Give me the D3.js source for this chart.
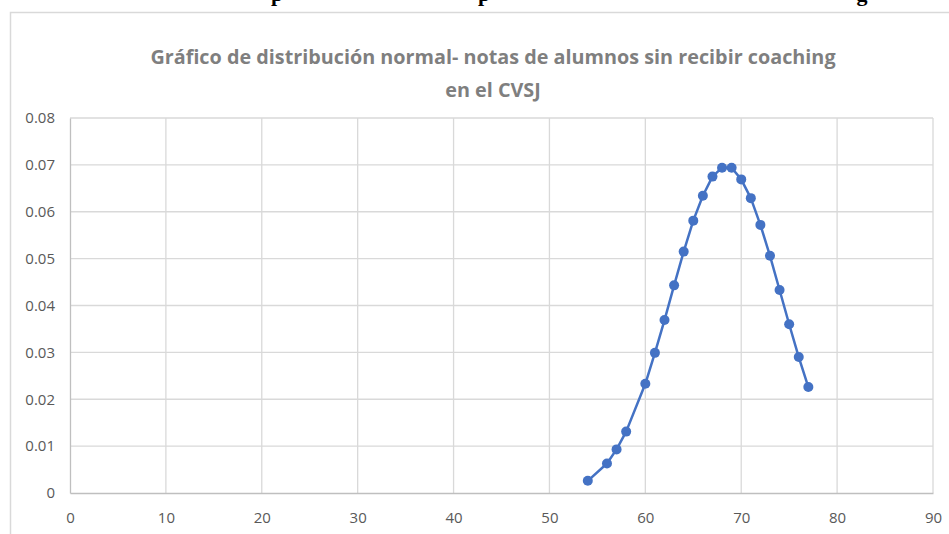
<!DOCTYPE html>
<html>
<head>
<meta charset="utf-8">
<script src="https://cdn.jsdelivr.net/npm/d3@7"></script>
<style>
  html, body { margin: 0; padding: 0; background: #fff; }
  svg { display: block; }
</style>
</head>
<body>
<div id="chart"></div>
<script>
// notas (eje x) y densidad normal (eje y)
const notas = [54, 56, 57, 58, 60, 61, 62, 63, 64, 65, 66, 67, 68, 69, 70, 71, 72, 73, 74, 75, 76, 77];
const densidad = [0.0026, 0.0063, 0.0093, 0.0131, 0.0233, 0.0299, 0.0369, 0.0443, 0.0515, 0.0581, 0.0634, 0.0675,
                  0.0694, 0.0694, 0.0669, 0.0629, 0.0572, 0.0506, 0.0433, 0.0360, 0.0290, 0.0226];
const xTicks = [0, 10, 20, 30, 40, 50, 60, 70, 80, 90];
const yTicks = [0, 0.01, 0.02, 0.03, 0.04, 0.05, 0.06, 0.07, 0.08];
const tituloLineas = ["Gráfico de distribución normal- notas de alumnos sin recibir coaching", "en el CVSJ"];

const width = 949, height = 534;
const plot = { left: 70, right: 933, top: 118, bottom: 493 };

const svg = d3.select("#chart").append("svg")
    .attr("width", width)
    .attr("height", height);

// restos del encabezado del documento, cortado arriba
[["p", 277], ["p", 484], ["g", 862]].forEach(([t, x]) => {
    svg.append("text")
        .attr("x", x).attr("y", 1)
        .attr("text-anchor", "middle")
        .style("font-family", "'Liberation Serif', serif")
        .style("font-weight", "bold")
        .style("font-size", "22px")
        .attr("fill", "#000")
        .text(t);
});

// borde del area del grafico
svg.append("rect")
    .attr("x", 10.5).attr("y", 12.5)
    .attr("width", 980).attr("height", 560)
    .attr("fill", "#fff")
    .attr("stroke", "#d9d9d9")
    .attr("stroke-width", 1.5);

const x = d3.scaleLinear().domain([0, 90]).range([plot.left, plot.right]);
const y = d3.scaleLinear().domain([0, 0.08]).range([plot.bottom, plot.top]);

// titulo
svg.append("g").selectAll("text")
    .data(tituloLineas)
    .join("text")
    .attr("x", 493)
    .attr("y", (d, i) => 64 + i * 33)
    .attr("text-anchor", "middle")
    .style("font-family", "'Open Sans', sans-serif")
    .style("font-weight", "bold")
    .style("font-size", "19.8px")
    .attr("fill", "#7f7f7f")
    .text(d => d);

// lineas de cuadricula
const grid = svg.append("g").attr("stroke", "#d9d9d9").attr("stroke-width", 1.3);
grid.selectAll("line.h")
    .data(yTicks.filter(d => d > 0))
    .join("line")
    .attr("class", "h")
    .attr("x1", plot.left).attr("x2", plot.right)
    .attr("y1", d => y(d)).attr("y2", d => y(d));
grid.selectAll("line.v")
    .data(xTicks.filter(d => d > 0))
    .join("line")
    .attr("class", "v")
    .attr("x1", d => x(d)).attr("x2", d => x(d))
    .attr("y1", plot.top).attr("y2", plot.bottom);

// ejes
const xAxis = svg.append("g")
    .attr("transform", `translate(0,${plot.bottom})`)
    .call(d3.axisBottom(x).tickValues(xTicks).tickSize(0).tickFormat(d3.format("d")));
const yAxis = svg.append("g")
    .attr("transform", `translate(${plot.left},0)`)
    .call(d3.axisLeft(y).tickValues(yTicks).tickSize(0).tickPadding(15).tickFormat(d => d === 0 ? "0" : d3.format(".2f")(d)));

[xAxis, yAxis].forEach(a => {
    a.select(".domain").attr("stroke", "#bfbfbf").attr("stroke-width", 1.3);
    a.selectAll("text")
        .style("font-family", "'Open Sans', sans-serif")
        .style("font-size", "15px")
        .attr("fill", "#595959");
});
xAxis.selectAll("text").attr("dy", "0.35em").attr("y", 25);

// serie
const line = d3.line()
    .x((d, i) => x(notas[i]))
    .y(d => y(d));

svg.append("path")
    .datum(densidad)
    .attr("fill", "none")
    .attr("stroke", "#4472c4")
    .attr("stroke-width", 2.5)
    .attr("stroke-linejoin", "round")
    .attr("d", line);

svg.append("g").selectAll("circle")
    .data(densidad)
    .join("circle")
    .attr("cx", (d, i) => x(notas[i]))
    .attr("cy", d => y(d))
    .attr("r", 5)
    .attr("fill", "#4472c4");
</script>
</body>
</html>
